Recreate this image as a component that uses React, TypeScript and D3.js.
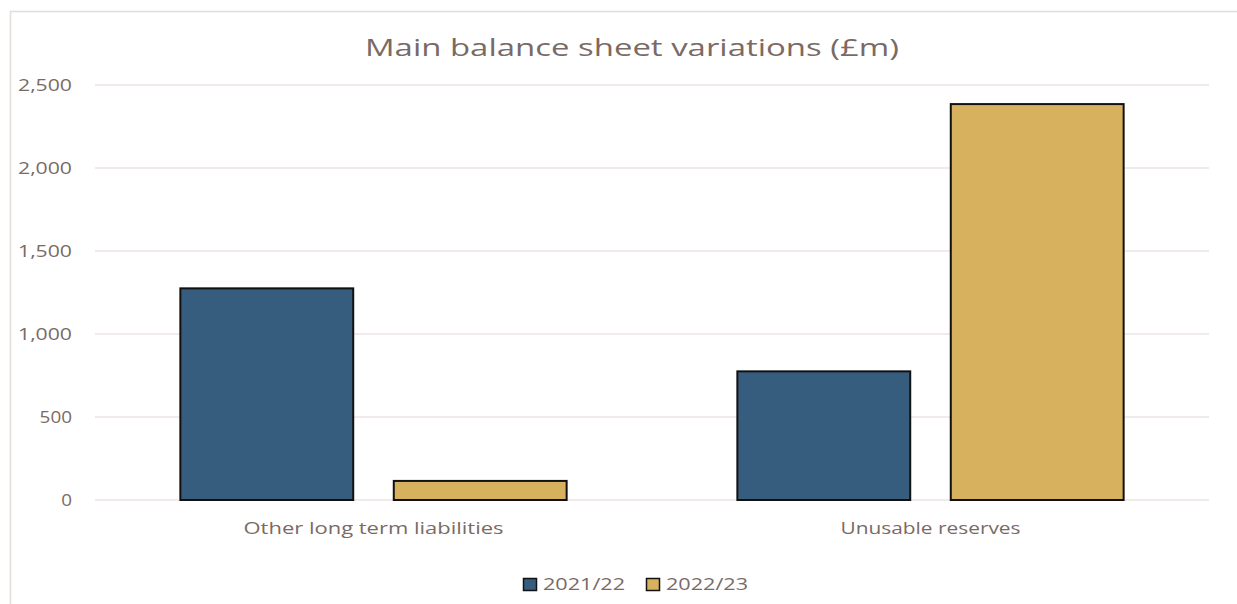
import React from "react";
import * as d3 from "d3";

const categories = ["Other long term liabilities", "Unusable reserves"];
const seriesNames = ["2021/22", "2022/23"];
const values2122 = [1275, 775];
const values2223 = [115, 2385];
const yTicks = [0, 500, 1000, 1500, 2000, 2500];

const colors = ["#365d7e", "#d7b15e"];
const textColor = "#7a6a65";
const font = "'Open Sans', 'DejaVu Sans', sans-serif";

export default function App() {
  const W = 1237;
  const H = 604;
  const margin = { top: 85, right: 28, bottom: 104, left: 95 };

  const x0 = d3
    .scaleBand<string>()
    .domain(categories)
    .range([margin.left, W - margin.right])
    .padding(0);

  const x1 = d3
    .scaleBand<string>()
    .domain(seriesNames)
    .range([0, x0.bandwidth()])
    .paddingInner(0.19)
    .paddingOuter(0.4);

  const y = d3
    .scaleLinear()
    .domain([0, 2500])
    .range([H - margin.bottom, margin.top]);

  const rows = categories.map((c, i) => ({
    cat: c,
    vals: [values2122[i], values2223[i]],
  }));

  // label widths (the source font is wider than anything installed)
  const catWidths = [260, 180];
  const fmt = d3.format(",");

  return (
    <svg
      width={W}
      height={H}
      style={{ position: "absolute", left: 0, top: 0, background: "#fff" }}
      fontFamily={font}
    >
      <rect x={10.5} y={11.5} width={W + 10} height={H + 10} fill="#fff" stroke="#e4dcd8" strokeWidth={1.5} />

      <text x={632} y={56} textAnchor="middle" fontSize={24} fill={textColor} textLength={534} lengthAdjust="spacingAndGlyphs">
        Main balance sheet variations (£m)
      </text>

      {yTicks.map((t) => (
        <g key={t}>
          <line
            x1={margin.left}
            x2={W - margin.right}
            y1={y(t)}
            y2={y(t)}
            stroke="#ebe5e2"
            strokeWidth={1.5}
          />
          <text
            x={72}
            y={y(t) + 6}
            textAnchor="end"
            fontSize={17}
            fill={textColor}
            textLength={fmt(t).length * 10.8}
            lengthAdjust="spacingAndGlyphs"
          >
            {fmt(t)}
          </text>
        </g>
      ))}

      {rows.map((r) => (
        <g key={r.cat} transform={`translate(${x0(r.cat)},0)`}>
          {r.vals.map((v, j) => (
            <rect
              key={j}
              x={x1(seriesNames[j])}
              y={y(v)}
              width={x1.bandwidth()}
              height={y(0) - y(v)}
              fill={colors[j]}
              stroke="#111"
              strokeWidth={2}
            />
          ))}
        </g>
      ))}

      {categories.map((c, i) => (
        <text
          key={c}
          x={(x0(c) as number) + x0.bandwidth() / 2}
          y={534}
          textAnchor="middle"
          fontSize={16}
          fill={textColor}
          textLength={catWidths[i]}
          lengthAdjust="spacingAndGlyphs"
        >
          {c}
        </text>
      ))}

      {seriesNames.map((s, i) => (
        <g key={s} transform={`translate(${523 + i * 123},578)`}>
          <rect x={0.5} y={0.5} width={13} height={12} fill={colors[i]} stroke="#111" strokeWidth={1.5} />
          <text x={20} y={11.5} fontSize={16} fill={textColor} textLength={82} lengthAdjust="spacingAndGlyphs">
            {s}
          </text>
        </g>
      ))}
    </svg>
  );
}
